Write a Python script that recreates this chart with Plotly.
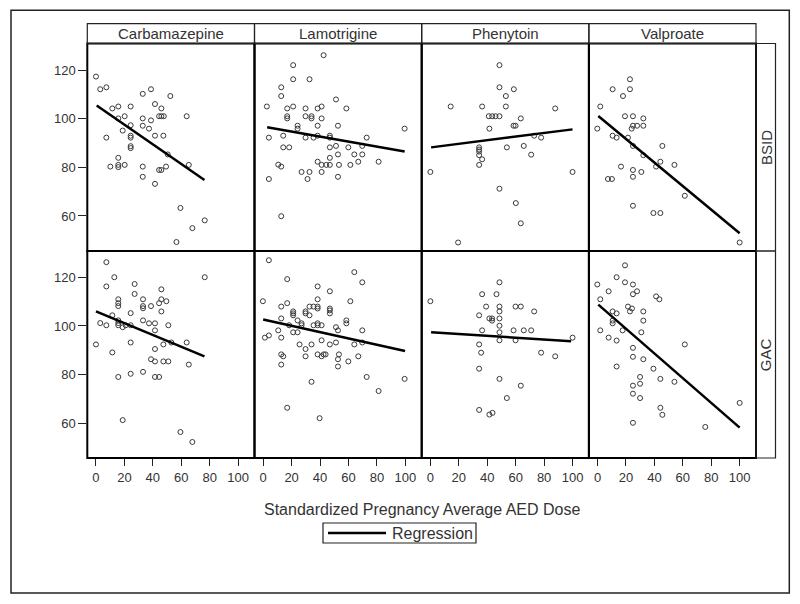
import plotly.graph_objects as go

# ---------------- data ----------------
drugs = ["Carbamazepine", "Lamotrigine", "Phenytoin", "Valproate"]
outcomes = ["BSID", "GAC"]
x_ticks = [0, 20, 40, 60, 80, 100]
y_ticks = [60, 80, 100, 120]
x_title = "Standardized Pregnancy Average AED Dose"
legend_label = "Regression"

carbamazepine_bsid = [(0, 117.3), (3, 112.1), (7.3, 112.9), (32.9, 110.2), (38.7, 112.1), (52.3, 109.3),
                      (11.5, 104.2), (15.7, 105), (24.4, 105), (41.5, 106), (46, 104.2), (15.7, 100.1),
                      (20.2, 101), (32.9, 100.1), (38.7, 99.3), (44.4, 101), (46, 101), (47.7, 101),
                      (63.8, 101), (24.4, 97.3), (32.9, 97.1), (37.3, 95.9), (18.8, 95.1), (7.3, 92.2),
                      (24.4, 93), (24.4, 92.2), (41.5, 93), (47.4, 93), (24.4, 88.7), (24.4, 87.9),
                      (50.5, 85.3), (15.7, 83.9), (10.1, 80.3), (15.7, 81), (15.7, 80.1), (20.2, 81),
                      (32.9, 80.3), (49.3, 80.3), (65.3, 81), (44.4, 78.9), (46, 78.9), (32.9, 76.1),
                      (41.5, 73.2), (59.4, 63.3), (76.5, 58.2), (67.8, 55), (56.6, 49.3)]
lamotrigine_bsid = [(42.5, 126.1), (21.1, 122), (21.1, 116.2), (32.6, 116.2), (12.7, 112.9), (12.7, 109.3),
                    (51.2, 107.9), (2.6, 105), (16.9, 104.2), (21.1, 105), (29.8, 104.2), (38.3, 104.2),
                    (41.1, 105), (58.5, 104.2), (16.9, 101), (16.9, 100.1), (29.8, 101), (34, 101),
                    (34, 100.1), (41.1, 100.1), (24.2, 97.1), (24.2, 95.9), (38.3, 97.1), (52.6, 97.1),
                    (99.5, 95.9), (4, 92.2), (14.1, 93), (29.8, 92.2), (35.4, 92.2), (38.3, 93),
                    (46.9, 93), (46.9, 92.2), (72.8, 92.2), (14.1, 88.2), (18.3, 88.2), (46.9, 88.2),
                    (51.2, 88.8), (59.9, 88.2), (69.7, 88.8), (52.6, 85.3), (64.1, 85.3), (69.7, 85.3),
                    (46.9, 83.9), (38.3, 82.3), (66.9, 82.3), (81.2, 82.3), (10.6, 81.1), (12.7, 80.3),
                    (41.1, 81), (44.4, 81), (46.9, 81), (53.3, 81), (61.3, 81), (27, 78.1),
                    (32.6, 78.1), (41.1, 78.1), (52.6, 76.1), (4, 75.2), (31.2, 75.2), (12.7, 59.9)]
phenytoin_bsid = [(48.6, 122), (48.6, 112.9), (58.7, 112.1), (53.1, 109.3), (14.3, 105), (36.4, 105),
                  (53.1, 105), (87.8, 104.2), (41.1, 101), (43.5, 101), (45.8, 101), (48.6, 101),
                  (63.6, 100.1), (58.5, 97.1), (59.9, 97.1), (41.5, 95.9), (73, 93), (77.9, 92.2),
                  (34.3, 88.2), (34.3, 87.3), (34.3, 86.5), (53.8, 88.2), (65.7, 88.8), (34.3, 85),
                  (36.4, 83.3), (34.3, 81), (70.9, 85.2), (0, 78.1), (100, 78.1), (48.6, 71.2),
                  (60.1, 65.3), (63.6, 57), (19.5, 49.1)]
valproate_bsid = [(22.8, 116.2), (10.6, 112.1), (22.8, 112.1), (17.9, 109.3), (1.9, 105), (19.3, 101),
                  (24.9, 101), (32.2, 100.1), (24.9, 97.1), (27.8, 97.1), (32.2, 97.1), (-0.2, 95.9),
                  (24, 95.9), (10.6, 93), (13.4, 92.2), (21.4, 92.2), (24.9, 88.8), (45.6, 88.8),
                  (32.2, 85), (44.2, 82.3), (41.2, 80.3), (54.1, 81), (16.5, 80.3), (24.9, 78.9),
                  (30.8, 78.1), (7.3, 75.2), (10.1, 75.2), (24.9, 76.1), (61.4, 68.3), (24.9, 64.2),
                  (39.3, 61.2), (44.2, 61.2), (100, 49.1)]

carbamazepine_gac = [(7.3, 126.3), (12.9, 120.1), (76.5, 120.1), (7.3, 116.3), (27.2, 117.3), (27.2, 113.2),
                     (46, 115.1), (15.7, 111), (15.7, 109.4), (15.7, 108.2), (33.1, 111), (33.1, 108.2),
                     (33.1, 107.3), (46, 111), (49.5, 110.2), (44.4, 109.4), (38.7, 108.2), (46, 106),
                     (24.4, 105.3), (11.5, 104.4), (15.7, 102.3), (15.7, 101.2), (15.7, 100.3), (3, 101.2),
                     (7.3, 100.3), (18.8, 99.5), (20.9, 100.3), (24.4, 100.3), (33.1, 102.3), (37.3, 101.1),
                     (41.5, 101.1), (41.5, 98.2), (50.9, 100.3), (0, 92.4), (24.4, 93.2), (47.4, 92.4),
                     (53, 93.2), (63.8, 93.2), (11.5, 89.1), (41.5, 90.5), (38.7, 86.3), (41.5, 85.4),
                     (47.4, 85.4), (50.9, 85.4), (65.3, 84.1), (24.4, 80.3), (33.1, 81.1), (15.7, 79),
                     (41.5, 79), (44.4, 79), (18.8, 61.2), (59.4, 56.3), (67.8, 52.2)]
lamotrigine_gac = [(4, 127.1), (16.9, 119.3), (64.1, 122.2), (69.7, 118), (38.3, 116.3), (46.9, 114.3),
                   (-0.2, 110.2), (16.9, 109.4), (12.7, 108), (38.3, 111), (61.3, 110.2), (32.6, 108),
                   (35.4, 108), (38.3, 108), (38.3, 107.2), (21.1, 106), (21.1, 105.2), (21.1, 104.4),
                   (29.8, 106), (29.8, 105.2), (32.6, 104.4), (46.9, 107.2), (46.9, 106.4), (46.9, 105.2),
                   (12.7, 103.1), (24.2, 102.3), (27, 101.1), (27, 100.3), (18.3, 100.3), (35.4, 100.3),
                   (38.3, 101.1), (38.3, 100.3), (41.1, 100.3), (58.5, 102.3), (58.5, 101.1), (51.2, 99.5),
                   (52.6, 98.2), (69.7, 98.2), (10.6, 98.2), (21.1, 97.4), (24.2, 97.4), (1.2, 95.2),
                   (4, 96.1), (12.7, 95.2), (41.1, 94.1), (51.2, 93.2), (25.6, 92.4), (34, 92.4),
                   (46.9, 92.4), (64.1, 92.4), (69.7, 93.2), (29.8, 90.5), (12.7, 88.3), (14.1, 87.5),
                   (29.8, 87.5), (38.3, 88.3), (41.1, 87.5), (42.5, 88.3), (43.9, 88.3), (53.3, 88.3),
                   (52.6, 86.3), (66.9, 87.5), (59.9, 85.4), (12.7, 84.1), (52.6, 83.3), (72.8, 79),
                   (99.5, 78.2), (34, 77), (81.2, 73.2), (16.9, 66.3), (39.7, 62)]
phenytoin_gac = [(48.6, 118), (36.4, 113.1), (46.5, 113.1), (0, 110.2), (39.2, 108), (48.6, 108),
                 (59.9, 108), (63.6, 108), (48.6, 106), (73, 106), (34.3, 104.4), (41.5, 103.1),
                 (43.4, 103.1), (43.4, 102.2), (48.6, 103.1), (48.6, 100.1), (36.4, 98.2), (48.6, 97.4),
                 (58.5, 98.2), (65.7, 98.2), (70.9, 98.2), (48.6, 94.1), (59.9, 94.1), (100, 95.2),
                 (34.3, 92.4), (35.7, 89), (77.9, 89), (87.8, 87.5), (34.3, 82.4), (48.6, 78.2),
                 (63.6, 75.4), (53.8, 70.3), (34.3, 65.4), (41.5, 63.5), (43.7, 64.2)]
valproate_gac = [(19.3, 125), (13.4, 120.1), (19.3, 118), (24.9, 117.1), (-0.2, 117.1), (27.8, 114.3),
                 (24.9, 113.1), (7.8, 114.3), (41.2, 112.2), (43.5, 111), (1.9, 111), (21.4, 108),
                 (24.2, 107.2), (22.8, 106), (32.2, 106), (10.6, 106), (13.4, 105.2), (10.6, 102.2),
                 (10.6, 101.1), (32.2, 102.2), (1.9, 98.2), (17.6, 98.2), (30.8, 97.4), (7.8, 95.2),
                 (13.4, 94), (61.4, 92.4), (24.9, 91), (24.9, 87.3), (32.2, 86.3), (13.4, 83.3),
                 (39.3, 82.4), (29.9, 79), (29.9, 76.2), (44.2, 78.2), (54.1, 77), (24.9, 75.4),
                 (24.9, 72.1), (29.9, 70.3), (44.2, 66.3), (45.6, 63.4), (100, 68.3), (75.8, 58.4),
                 (24.9, 60.1)]

# regression line end points (x0, y0, x1, y1) per drug, as drawn in the reference
regression_bsid = [(0.5, 105.4, 76.3, 74.8), (2.8, 96.5, 99.5, 86.5),
                   (0.5, 88.2, 100, 95.6), (0.5, 101.1, 100, 52.9)]
regression_gac = [(0, 106, 76.3, 87.5), (0, 102.7, 99.8, 89.7),
                  (0.5, 97.4, 99, 93.7), (0.5, 108.8, 100, 58.1)]

scatter_rows = [[carbamazepine_bsid, lamotrigine_bsid, phenytoin_bsid, valproate_bsid],
                [carbamazepine_gac, lamotrigine_gac, phenytoin_gac, valproate_gac]]
regression_rows = [regression_bsid, regression_gac]

# ---------------- layout geometry (pixels) ----------------
W, H = 800, 604
col_edges = [87.3, 254.5, 421.7, 588.9, 756.0]
row_edges = [43.5, 251.0, 458.0]
strip_top = 23.7
side_right = 775.5
FONT = "Liberation Sans, Arial, sans-serif"
TXT = "#333333"


def fx(p):
    return p / W


def fy(p):
    return 1 - p / H


fig = go.Figure()
layout = {}
for r in range(2):
    for c in range(4):
        i = r * 4 + c + 1
        sfx = "" if i == 1 else str(i)
        pts = scatter_rows[r][c]
        x0, y0, x1, y1 = regression_rows[r][c]
        fig.add_trace(go.Scatter(
            x=[p[0] for p in pts], y=[p[1] for p in pts], mode="markers",
            marker=dict(symbol="circle-open", size=5, color="#3a3a3a", line=dict(width=1)),
            xaxis="x" + sfx, yaxis="y" + sfx, showlegend=False, hoverinfo="skip"))
        fig.add_trace(go.Scatter(
            x=[x0, x1], y=[y0, y1], mode="lines", name=legend_label,
            line=dict(color="black", width=2.5),
            xaxis="x" + sfx, yaxis="y" + sfx, showlegend=False, hoverinfo="skip"))
        layout["xaxis" + sfx] = dict(
            domain=[fx(col_edges[c]), fx(col_edges[c + 1])], range=[-6.1, 111.5],
            anchor="y" + sfx, showgrid=False, zeroline=False, showline=False,
            tickvals=x_ticks,
            ticks="outside" if r == 1 else "", ticklen=7, tickcolor="#222", tickwidth=1,
            showticklabels=(r == 1), tickfont=dict(family=FONT, size=13, color=TXT))
        layout["yaxis" + sfx] = dict(
            domain=[fy(row_edges[r + 1]), fy(row_edges[r])], range=[45.6, 130.9],
            anchor="x" + sfx, showgrid=False, zeroline=False, showline=False,
            tickvals=y_ticks,
            ticks="outside" if c == 0 else "", ticklen=8, tickcolor="#222", tickwidth=1,
            showticklabels=(c == 0), tickfont=dict(family=FONT, size=13, color=TXT))

shapes = []
annotations = []
# outer frame
shapes.append(dict(type="rect", xref="paper", yref="paper", x0=fx(11), x1=fx(789.3),
                   y0=fy(593), y1=fy(10.3), line=dict(color="#222", width=1.5)))
# panel borders
for r in range(2):
    for c in range(4):
        shapes.append(dict(type="rect", xref="paper", yref="paper",
                           x0=fx(col_edges[c]), x1=fx(col_edges[c + 1]),
                           y0=fy(row_edges[r + 1]), y1=fy(row_edges[r]),
                           line=dict(color="black", width=2)))
# column header strips
for c, name in enumerate(drugs):
    shapes.append(dict(type="rect", xref="paper", yref="paper", x0=fx(col_edges[c]),
                       x1=fx(col_edges[c + 1]), y0=fy(row_edges[0]), y1=fy(strip_top),
                       line=dict(color="#222", width=1.2)))
    annotations.append(dict(text=name, xref="paper", yref="paper",
                            x=fx((col_edges[c] + col_edges[c + 1]) / 2), y=fy((strip_top + row_edges[0]) / 2),
                            showarrow=False, xanchor="center", yanchor="middle",
                            font=dict(family=FONT, size=15, color=TXT)))
# row side strips
for r, name in enumerate(outcomes):
    shapes.append(dict(type="rect", xref="paper", yref="paper", x0=fx(col_edges[-1]),
                       x1=fx(side_right), y0=fy(row_edges[r + 1]), y1=fy(row_edges[r]),
                       line=dict(color="#222", width=1.2)))
    annotations.append(dict(text=name, xref="paper", yref="paper",
                            x=fx((col_edges[-1] + side_right) / 2), y=fy((row_edges[r] + row_edges[r + 1]) / 2),
                            showarrow=False, xanchor="center", yanchor="middle", textangle=-90,
                            font=dict(family=FONT, size=15, color=TXT)))
# shared x-axis title
annotations.append(dict(text=x_title, xref="paper", yref="paper",
                        x=fx((col_edges[0] + col_edges[-1]) / 2), y=fy(509),
                        showarrow=False, xanchor="center", yanchor="middle",
                        font=dict(family=FONT, size=16, color=TXT)))
# legend box (drawn to match the compact SAS legend)
shapes.append(dict(type="rect", xref="paper", yref="paper", x0=fx(323), x1=fx(476),
                   y0=fy(543), y1=fy(523), line=dict(color="#222", width=1.2)))
shapes.append(dict(type="line", xref="paper", yref="paper", x0=fx(328), x1=fx(386),
                   y0=fy(533), y1=fy(533), line=dict(color="black", width=2.5)))
annotations.append(dict(text=legend_label, xref="paper", yref="paper",
                        x=fx(390), y=fy(533), showarrow=False, xanchor="left", yanchor="middle",
                        font=dict(family=FONT, size=16, color=TXT)))

fig.update_layout(
    **layout,
    width=W, height=H, margin=dict(l=0, r=0, t=0, b=0),
    paper_bgcolor="white", plot_bgcolor="white",
    shapes=shapes, annotations=annotations,
    showlegend=False,
)

fig.write_html("out.html", config={"displayModeBar": False},
               post_script="document.body.style.margin='0px';")
